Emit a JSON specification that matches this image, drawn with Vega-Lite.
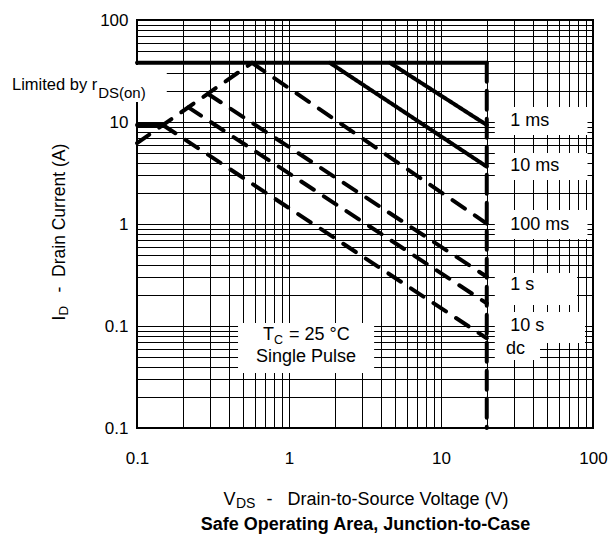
{
  "$schema": "https://vega.github.io/schema/vega-lite/v6.json",
  "width": 456,
  "height": 408,
  "autosize": {"type": "none"},
  "padding": {"left": 137, "top": 20, "right": 20, "bottom": 107},
  "background": "white",
  "config": {
    "font": "Liberation Sans",
    "view": {"stroke": "black", "strokeWidth": 2}
  },
  "datasets": {
    "curves": [
      {"series": "limit", "V": 0.1, "I": 38}, {"series": "limit", "V": 20, "I": 38},
      {"series": "idc", "V": 0.1, "I": 9.35}, {"series": "idc", "V": 0.148, "I": 9.35},
      {"series": "rds", "V": 0.1, "I": 6.2}, {"series": "rds", "V": 0.571, "I": 38},
      {"series": "1 ms", "V": 4.62, "I": 38}, {"series": "1 ms", "V": 20, "I": 9.35},
      {"series": "10 ms", "V": 1.86, "I": 38}, {"series": "10 ms", "V": 20, "I": 3.65},
      {"series": "100 ms", "V": 0.571, "I": 38}, {"series": "100 ms", "V": 20, "I": 1.01},
      {"series": "1 s", "V": 0.294, "I": 18.8}, {"series": "1 s", "V": 20, "I": 0.304},
      {"series": "10 s", "V": 0.218, "I": 13.9}, {"series": "10 s", "V": 20, "I": 0.167},
      {"series": "dc", "V": 0.148, "I": 9.35}, {"series": "dc", "V": 20, "I": 0.0758},
      {"series": "VDS max", "V": 20, "I": 38}, {"series": "VDS max", "V": 20, "I": 0.01}
    ],
    "boxes": [
      {"label": "Limited", "V0": 0.012, "V1": 0.157, "I0": 15.7, "I1": 36.2},
      {"label": "1 ms", "V0": 22.6, "V1": 92, "I0": 7.46, "I1": 14.0},
      {"label": "10 ms", "V0": 22.6, "V1": 92, "I0": 2.7, "I1": 4.97},
      {"label": "100 ms", "V0": 22.6, "V1": 92, "I0": 0.713, "I1": 1.37},
      {"label": "1 s", "V0": 22.6, "V1": 78.5, "I0": 0.161, "I1": 0.331},
      {"label": "10 s", "V0": 22.6, "V1": 88.6, "I0": 0.068, "I1": 0.137},
      {"label": "dc", "V0": 22.6, "V1": 44.8, "I0": 0.0464, "I1": 0.068},
      {"label": "Tc", "V0": 0.462, "V1": 3.63, "I0": 0.0346, "I1": 0.107}
    ],
    "labels": [
      {"text": "1 ms", "V": 28.5, "I": 10.2},
      {"text": "10 ms", "V": 28.5, "I": 3.71},
      {"text": "100 ms", "V": 28.5, "I": 0.977},
      {"text": "1 s", "V": 28.5, "I": 0.252},
      {"text": "10 s", "V": 28.5, "I": 0.1},
      {"text": "dc", "V": 26.8, "I": 0.0595},
      {"text": "T", "V": 0.674, "I": 0.0816},
      {"text": "= 25 °C", "V": 1.0, "I": 0.0816},
      {"text": "Single Pulse", "V": 0.607, "I": 0.0497}
    ],
    "subs": [
      {"text": "C", "V": 0.797, "I": 0.0729}
    ],
    "limited": [
      {"text": "Limited by r", "V": 0.01506, "I": 23.0}
    ],
    "limitedSub": [
      {"text": "DS(on)", "V": 0.0555, "I": 19.1}
    ]
  },
  "layer": [
    {
      "data": {"name": "boxes"},
      "mark": {"type": "rect", "fill": "white", "strokeWidth": 0},
      "encoding": {
        "x": {"field": "V0", "type": "quantitative",
          "axis": {"orient": "bottom", "grid": false, "domain": false, "ticks": false, "labels": false,
            "title": "DS", "titleFont": "Liberation Sans", "titleFontSize": 14, "titleFontWeight": "normal", "titleColor": "black",
            "titleX": 98.5, "titleY": 75, "titleAlign": "left", "titleBaseline": "middle"}},
        "x2": {"field": "V1"},
        "y": {"field": "I0", "type": "quantitative",
          "axis": {"orient": "left", "grid": false, "domain": false, "ticks": false, "labels": false,
            "title": "D", "titleFont": "Liberation Sans", "titleFontSize": 13.5, "titleFontWeight": "normal", "titleColor": "black",
            "titleAngle": 270, "titleX": -74, "titleY": 295, "titleAlign": "left", "titleBaseline": "middle"}},
        "y2": {"field": "I1"}
      }
    },
    {
      "data": {"name": "curves"},
      "mark": {"type": "line", "color": "black", "strokeCap": "round"},
      "encoding": {
        "x": {"field": "V", "type": "quantitative",
          "scale": {"type": "log", "domain": [0.1, 100], "nice": false},
          "axis": {"orient": "bottom",
            "values": [0.1, 0.2, 0.3, 0.4, 0.5, 0.6, 0.7, 0.8, 0.9, 1, 2, 3, 4, 5, 6, 7, 8, 9, 10, 20, 30, 40, 50, 60, 70, 80, 90, 100],
            "labelExpr": "datum.value == 0.1 ? '0.1' : datum.value == 1 ? '1' : datum.value == 10 ? '10' : datum.value == 100 ? '100' : ''",
            "grid": true, "gridColor": "black", "gridWidth": 1, "gridOpacity": 1,
            "domain": false, "ticks": false, "labelFlush": false, "labelOverlap": false,
            "labelFont": "Liberation Sans", "labelFontSize": 17, "labelColor": "black", "labelPadding": 22,
            "title": "V", "titleFont": "Liberation Sans", "titleFontSize": 18, "titleFontWeight": "normal", "titleColor": "black",
            "titleX": 86, "titleY": 71, "titleAlign": "left", "titleBaseline": "middle"}},
        "y": {"field": "I", "type": "quantitative",
          "scale": {"type": "log", "domain": [0.01, 100], "nice": false},
          "axis": {"orient": "left",
            "values": [0.01, 0.02, 0.03, 0.04, 0.05, 0.06, 0.07, 0.08, 0.09, 0.1, 0.2, 0.3, 0.4, 0.5, 0.6, 0.7, 0.8, 0.9, 1, 2, 3, 4, 5, 6, 7, 8, 9, 10, 20, 30, 40, 50, 60, 70, 80, 90, 100],
            "labelExpr": "datum.value == 0.01 || datum.value == 0.1 ? '0.1' : datum.value == 1 ? '1' : datum.value == 10 ? '10' : datum.value == 100 ? '100' : ''",
            "grid": true, "gridColor": "black", "gridWidth": 1, "gridOpacity": 1,
            "domain": false, "ticks": false, "labelFlush": false, "labelOverlap": false,
            "labelFont": "Liberation Sans", "labelFontSize": 17, "labelColor": "black", "labelPadding": 9,
            "title": "I", "titleFont": "Liberation Sans", "titleFontSize": 17.5, "titleFontWeight": "normal", "titleColor": "black",
            "titleAngle": 270, "titleX": -78, "titleY": 300, "titleAlign": "left", "titleBaseline": "middle"}},
        "strokeDash": {"field": "series", "type": "nominal", "legend": null,
          "scale": {"domain": ["limit", "idc", "1 ms", "10 ms", "rds", "100 ms", "1 s", "10 s", "dc", "VDS max"],
            "range": [[1, 0], [1, 0], [1, 0], [1, 0], [15, 12], [15, 12], [15, 12], [15, 12], [15, 12], [19, 9]]}},
        "strokeWidth": {"field": "series", "type": "nominal", "legend": null,
          "scale": {"domain": ["limit", "idc", "1 ms", "10 ms", "rds", "100 ms", "1 s", "10 s", "dc", "VDS max"],
            "range": [4, 4, 3, 3, 4, 4, 4, 4, 4, 4]}}
      }
    },
    {
      "data": {"name": "labels"},
      "mark": {"type": "text", "align": "left", "baseline": "middle", "fontSize": 18, "color": "black", "font": "Liberation Sans"},
      "encoding": {
        "x": {"field": "V", "type": "quantitative",
          "axis": {"orient": "bottom", "grid": false, "domain": false, "ticks": false, "labels": false,
            "title": "-\u00a0\u00a0\u00a0Drain-to-Source Voltage (V)", "titleFont": "Liberation Sans", "titleFontSize": 18, "titleFontWeight": "normal", "titleColor": "black",
            "titleX": 129, "titleY": 71, "titleAlign": "left", "titleBaseline": "middle"}},
        "y": {"field": "I", "type": "quantitative",
          "axis": {"orient": "left", "grid": false, "domain": false, "ticks": false, "labels": false,
            "title": "-\u00a0\u00a0Drain Current (A)", "titleFont": "Liberation Sans", "titleFontSize": 17.5, "titleFontWeight": "normal", "titleColor": "black",
            "titleAngle": 270, "titleX": -78, "titleY": 272, "titleAlign": "left", "titleBaseline": "middle"}},
        "text": {"field": "text"}
      }
    },
    {
      "data": {"name": "subs"},
      "mark": {"type": "text", "align": "left", "baseline": "middle", "fontSize": 12.5, "color": "black", "font": "Liberation Sans"},
      "encoding": {
        "x": {"field": "V", "type": "quantitative",
          "axis": {"orient": "bottom", "grid": false, "domain": false, "ticks": false, "labels": false,
            "title": "Safe Operating Area, Junction-to-Case", "titleFont": "Liberation Sans", "titleFontSize": 18, "titleFontWeight": "bold", "titleColor": "black",
            "titleX": 228, "titleY": 96, "titleAlign": "center", "titleBaseline": "middle"}},
        "y": {"field": "I", "type": "quantitative", "axis": null},
        "text": {"field": "text"}
      }
    },
    {
      "data": {"name": "limited"},
      "mark": {"type": "text", "align": "left", "baseline": "middle", "fontSize": 16.5, "color": "black", "font": "Liberation Sans"},
      "encoding": {
        "x": {"field": "V", "type": "quantitative", "axis": null},
        "y": {"field": "I", "type": "quantitative", "axis": null},
        "text": {"field": "text"}
      }
    },
    {
      "data": {"name": "limitedSub"},
      "mark": {"type": "text", "align": "left", "baseline": "middle", "fontSize": 15, "color": "black", "font": "Liberation Sans"},
      "encoding": {
        "x": {"field": "V", "type": "quantitative", "axis": null},
        "y": {"field": "I", "type": "quantitative", "axis": null},
        "text": {"field": "text"}
      }
    }
  ],
  "resolve": {"axis": {"x": "independent", "y": "independent"}}
}
